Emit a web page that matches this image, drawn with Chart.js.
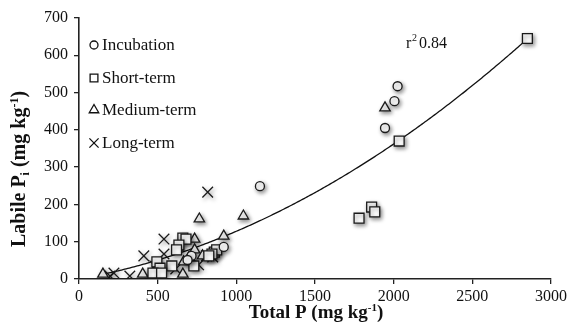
<!DOCTYPE html>
<html>
<head>
<meta charset="utf-8">
<script src="https://cdn.jsdelivr.net/npm/chart.js@4/dist/chart.umd.min.js"></script>
<style>
  html, body { margin: 0; padding: 0; background: #fff; }
  #wrap { width: 570px; height: 329px; position: relative; }
</style>
</head>
<body>
<div id="wrap"><canvas id="myChart"></canvas></div>
<script>
// values: Total P (x) vs labile Pi (y), mg/kg
const incubationX = [1150, 2025, 2005, 1945, 920, 715, 690];
const incubationY = [249, 517, 477, 405, 86, 62, 51];

const shortX = [2850, 2035, 1780, 1860, 1880, 660, 680, 635, 620, 495, 590, 515, 470, 525, 730, 860, 875, 845, 825];
const shortY = [645, 370, 163, 193, 180, 110, 107, 91, 78, 46, 35, 29, 16, 16, 35, 72, 78, 67, 62];

const mediumX = [1945, 765, 1045, 920, 735, 735, 152, 405, 470, 660, 665, 700, 785];
const mediumY = [459, 161, 169, 115, 107, 78, 13, 13, 16, 13, 46, 59, 62];

const longX = [818, 540, 412, 540, 222, 197, 323, 615, 760, 810, 850, 482];
const longY = [233, 107, 62, 67, 16, 8, 8, 27, 38, 62, 59, 35];

// trend line (excel-style fit), y = a*x^2 + b*x
const trendA = 0.000053;
const trendB = 0.075;
const trendFrom = 160;
const trendTo = 2850;
const r2 = "0.84";

const xTicks = [0, 500, 1000, 1500, 2000, 2500, 3000];
const yTicks = [0, 100, 200, 300, 400, 500, 600, 700];

const seriesNames = ["Incubation", "Short-term", "Medium-term", "Long-term"];

const FONT = "'Liberation Serif', 'DejaVu Serif', serif";

function pts(xs, ys) {
  return xs.map((x, i) => ({ x: x, y: ys[i] }));
}

const trend = [];
for (let x = trendFrom; x <= trendTo; x += 10) {
  trend.push({ x: x, y: trendA * x * x + trendB * x });
}

const markers = [
  { pointStyle: "circle", radius: 4.5 },
  { pointStyle: "rect", radius: 7 },
  { pointStyle: "triangle", radius: 6 },
  { pointStyle: "crossRot", radius: 7.5 },
];

function markerSet(i, data) {
  return {
    label: seriesNames[i],
    data: data,
    pointStyle: markers[i].pointStyle,
    pointRadius: markers[i].radius,
    pointBackgroundColor: "#fff",
    pointBorderColor: "#1a1a1a",
    pointBorderWidth: 1.3,
    showLine: false,
  };
}

// soft grey shadow under the markers, as in the original
const shadowPlugin = {
  id: "shadow",
  beforeDatasetDraw(chart, args) {
    if (args.index > 3) return;
    const ctx = chart.ctx;
    ctx.save();
    ctx.shadowColor = "rgba(0,0,0,0.45)";
    ctx.shadowBlur = 4;
    ctx.shadowOffsetX = 1.5;
    ctx.shadowOffsetY = 2;
  },
  afterDatasetDraw(chart, args) {
    if (args.index > 3) return;
    chart.ctx.restore();
  },
};

// legend inside the plot, axis titles and r2 label
const textPlugin = {
  id: "texts",
  afterDraw(chart) {
    const ctx = chart.ctx;
    ctx.save();

    // legend
    const rows = [45, 78, 110, 143];
    ctx.textBaseline = "middle";
    ctx.textAlign = "left";
    for (let i = 0; i < 4; i++) {
      ctx.fillStyle = "#fff";
      ctx.strokeStyle = "#111";
      ctx.lineWidth = 1.3;
      Chart.helpers.drawPoint(ctx, {
        pointStyle: markers[i].pointStyle,
        radius: i == 0 ? 4 : i == 3 ? 6.5 : 5.5,
        borderWidth: 1.3,
      }, 94, rows[i]);
      ctx.fillStyle = "#111";
      ctx.font = "17px " + FONT;
      ctx.fillText(seriesNames[i], 102, rows[i] + 1);
    }

    // r2
    ctx.fillStyle = "#111";
    ctx.textBaseline = "alphabetic";
    ctx.font = "16px " + FONT;
    ctx.fillText("r", 406, 48);
    ctx.font = "10px " + FONT;
    ctx.fillText("2", 412, 41);
    ctx.font = "16px " + FONT;
    ctx.fillText(r2, 419, 48);

    // x title
    const xParts = [
      ["Total P (mg kg", "bold 19px " + FONT, 0],
      ["-1", "bold 11px " + FONT, -7],
      [")", "bold 19px " + FONT, 0],
    ];
    drawParts(ctx, xParts, 316, 318);

    // y title, rotated
    ctx.translate(25, 169);
    ctx.rotate(-Math.PI / 2);
    const yParts = [
      ["Labile P", "bold 20px " + FONT, 0],
      ["i", "bold 12px " + FONT, 4],
      [" (mg kg", "bold 20px " + FONT, 0],
      ["-1", "bold 12px " + FONT, -7],
      [")", "bold 20px " + FONT, 0],
    ];
    drawParts(ctx, yParts, 0, 0);
    ctx.restore();
  },
};

function drawParts(ctx, parts, cx, baseline) {
  let total = 0;
  for (const p of parts) {
    ctx.font = p[1];
    total += ctx.measureText(p[0]).width;
  }
  let x = cx - total / 2;
  ctx.textAlign = "left";
  ctx.textBaseline = "alphabetic";
  ctx.fillStyle = "#111";
  for (const p of parts) {
    ctx.font = p[1];
    ctx.fillText(p[0], x, baseline + p[2]);
    x += ctx.measureText(p[0]).width;
  }
}

const ctx = document.getElementById("myChart");

new Chart(ctx, {
  type: "scatter",
  data: {
    datasets: [
      markerSet(0, pts(incubationX, incubationY)),
      markerSet(1, pts(shortX, shortY)),
      markerSet(2, pts(mediumX, mediumY)),
      markerSet(3, pts(longX, longY)),
      {
        label: "trend",
        data: trend,
        showLine: true,
        pointRadius: 0,
        borderColor: "#111",
        borderWidth: 1.3,
        fill: false,
        tension: 0,
      },
    ],
  },
  options: {
    responsive: true,
    maintainAspectRatio: false,
    animation: false,
    layout: { padding: { top: 18, right: 18, left: 0, bottom: 0 } },
    plugins: {
      legend: { display: false },
      tooltip: { enabled: false },
    },
    scales: {
      x: {
        type: "linear",
        min: 0,
        max: 3000,
        afterFit(scale) { scale.height = 50; },
        afterBuildTicks(scale) { scale.ticks = xTicks.map(v => ({ value: v })); },
        grid: { drawOnChartArea: false, drawTicks: true, tickLength: 5, color: "#222", lineWidth: 1.3 },
        border: { color: "#222", width: 1.6 },
        ticks: {
          color: "#111", font: { family: FONT, size: 16 }, padding: 3, maxRotation: 0,
          callback: v => String(v),
        },
      },
      y: {
        type: "linear",
        min: 0,
        max: 700,
        afterFit(scale) { scale.width = 79; },
        afterBuildTicks(scale) { scale.ticks = yTicks.map(v => ({ value: v })); },
        grid: { drawOnChartArea: false, drawTicks: true, tickLength: 5, color: "#222", lineWidth: 1.3 },
        border: { color: "#222", width: 1.6 },
        ticks: {
          color: "#111", font: { family: FONT, size: 16 }, padding: 6,
          callback: v => String(v),
        },
      },
    },
  },
  plugins: [shadowPlugin, textPlugin],
});
</script>
</body>
</html>
